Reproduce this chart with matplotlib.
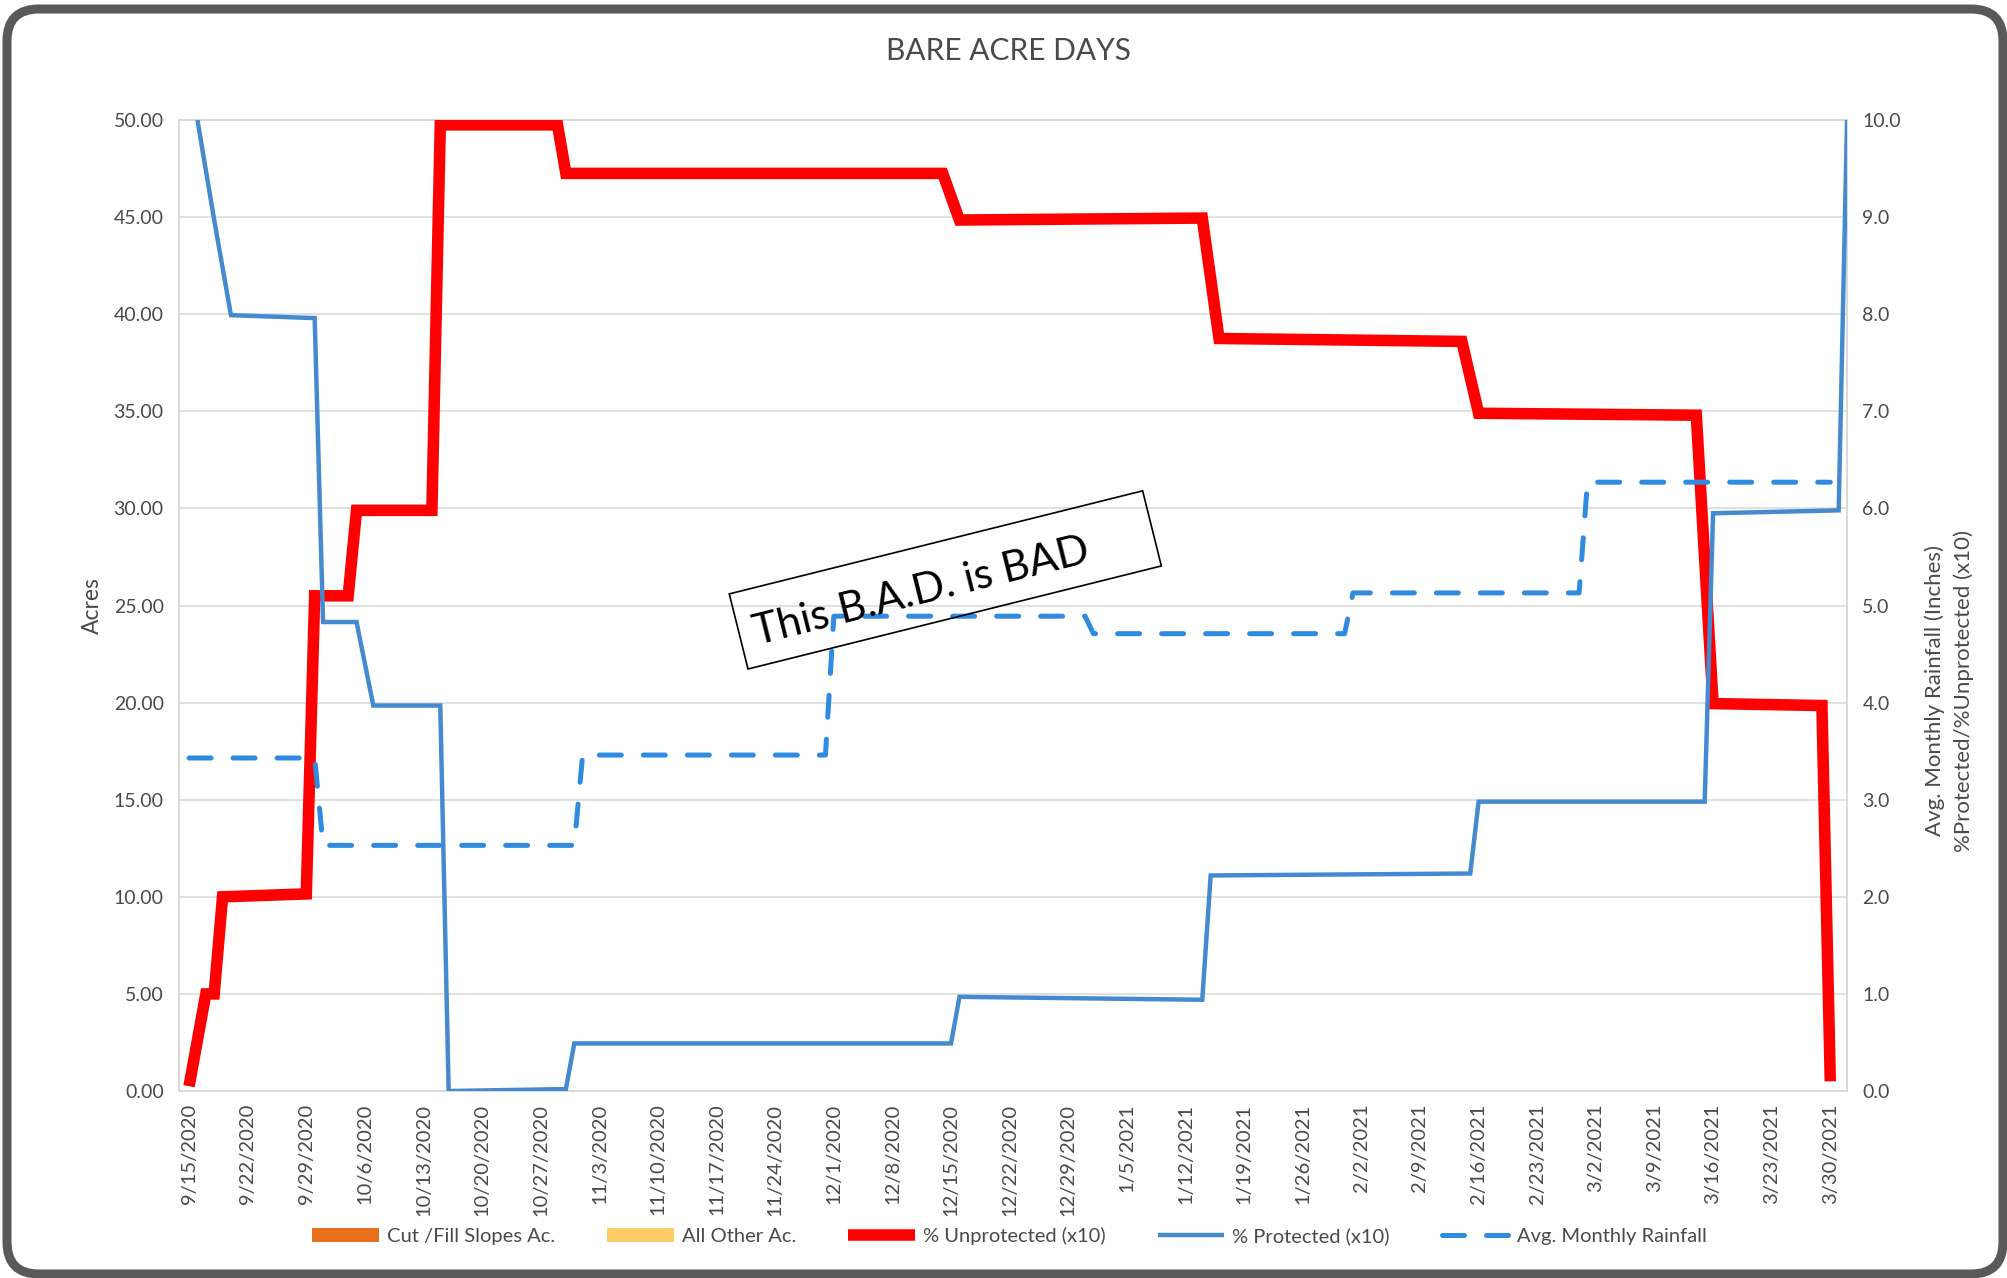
import numpy as np
import pandas as pd
import matplotlib
matplotlib.use("Agg")
import matplotlib.pyplot as plt
import matplotlib.dates as mdates
from matplotlib.patches import FancyBboxPatch, Rectangle
from matplotlib.ticker import FormatStrFormatter, MultipleLocator
from matplotlib.transforms import Affine2D

plt.rcParams['font.family'] = ['Lato', 'DejaVu Sans']

# --- % of site left unprotected, x10 (right axis) ---
unprot_dates = ['2020-09-15', '2020-09-17', '2020-09-18', '2020-09-19',
                '2020-09-29', '2020-09-30', '2020-10-04', '2020-10-05',
                '2020-10-14', '2020-10-15', '2020-10-29', '2020-10-30',
                '2020-12-14', '2020-12-16', '2021-01-14', '2021-01-16',
                '2021-02-14', '2021-02-16', '2021-03-14', '2021-03-16',
                '2021-03-29', '2021-03-30']
unprot_vals = [0.05, 1.00, 1.00, 2.00,
               2.03, 5.10, 5.10, 5.98,
               5.98, 9.95, 9.95, 9.45,
               9.45, 8.97, 8.99, 7.75,
               7.72, 6.98, 6.96, 3.99,
               3.97, 0.10]

# --- % protected, x10 (right axis) ---
prot_dates = ['2020-09-16', '2020-09-18', '2020-09-20', '2020-09-30',
              '2020-10-01', '2020-10-05', '2020-10-07', '2020-10-15',
              '2020-10-16', '2020-10-30', '2020-10-31', '2020-12-15',
              '2020-12-16', '2021-01-14', '2021-01-15', '2021-02-15',
              '2021-02-16', '2021-03-15', '2021-03-16', '2021-03-31',
              '2021-04-01']
prot_vals = [10.00, 8.97, 7.99, 7.96,
             4.83, 4.83, 3.97, 3.97,
             0.00, 0.02, 0.49, 0.49,
             0.97, 0.94, 2.22, 2.24,
             2.98, 2.98, 5.95, 5.98,
             10.00]

# --- average monthly rainfall, inches (right axis) ---
rain_dates = ['2020-09-15', '2020-09-30', '2020-10-01', '2020-10-31',
              '2020-11-01', '2020-11-30', '2020-12-01', '2020-12-31',
              '2021-01-01', '2021-01-31', '2021-02-01', '2021-02-28',
              '2021-03-01', '2021-03-30']
rain_vals = [3.43, 3.43, 2.53, 2.53,
             3.46, 3.46, 4.89, 4.89,
             4.71, 4.71, 5.13, 5.13,
             6.27, 6.27]

# --- bare acreage by category (left axis, stacked areas) ---
acre_dates = ['2020-09-15', '2021-03-30']
cut_fill_acres = [0.0, 0.0]
other_acres = [0.0, 0.0]

tick_start, tick_end = '2020-09-15', '2021-03-30'

GRAY_TXT = '#4A4A4A'
GRID = '#D9D9D9'
RED = '#FF0000'
BLUE = '#4589CF'
RAIN_BLUE = '#2E8BE0'
ORANGE = '#E8701C'
YELLOW = '#FFCB66'

fig = plt.figure(figsize=(20.07, 12.78), dpi=100)
ax = fig.add_axes([0.0892, 0.1463, 0.8311, 0.7598])
ax2 = ax.twinx()

acre_x = pd.to_datetime(acre_dates)
ax.stackplot(acre_x, cut_fill_acres, other_acres, colors=[ORANGE, YELLOW],
             labels=['Cut /Fill Slopes Ac.', 'All Other Ac.'])

ax2.plot(pd.to_datetime(unprot_dates), unprot_vals, color=RED, lw=8.3,
         solid_joinstyle='miter', solid_capstyle='butt',
         label='% Unprotected (x10)', zorder=3)
ax2.plot(pd.to_datetime(prot_dates), prot_vals, color=BLUE, lw=3.2,
         solid_joinstyle='miter', solid_capstyle='butt',
         label='% Protected (x10)', zorder=4)
ax2.plot(pd.to_datetime(rain_dates), rain_vals, color=RAIN_BLUE, lw=3.6,
         dashes=(4.4, 4.4), dash_capstyle='round',
         label='Avg. Monthly Rainfall', zorder=5)

# axes limits and ticks
x0 = mdates.date2num(pd.Timestamp(tick_start))
ax.set_xlim(x0 - 1.2, x0 + 198.0)
ax.set_ylim(0, 50)
ax2.set_ylim(0, 10)
ax.yaxis.set_major_locator(MultipleLocator(5))
ax.yaxis.set_major_formatter(FormatStrFormatter('%.2f'))
ax2.yaxis.set_major_locator(MultipleLocator(1))
ax2.yaxis.set_major_formatter(FormatStrFormatter('%.1f'))

week_ticks = pd.date_range(tick_start, tick_end, freq='7D')
ax.set_xticks(week_ticks)
ax.set_xticklabels([f"{d.month}/{d.day}/{d.year}" for d in week_ticks],
                   rotation=90)

ax.grid(axis='y', color=GRID, lw=1.1)
ax.set_axisbelow(True)
for a in (ax, ax2):
  for side in a.spines:
    a.spines[side].set_color(GRID)
    a.spines[side].set_linewidth(1.1)
  a.tick_params(length=0, colors=GRAY_TXT, labelsize=14)
ax.tick_params(axis='x', pad=9, labelsize=14.5)
ax.tick_params(axis='y', pad=11)
ax2.tick_params(axis='y', pad=11)

ax.set_ylabel('Acres', fontsize=16.5, color=GRAY_TXT, labelpad=8)
fig.text(0.9712, 1 - 691 / 1278,
         'Avg. Monthly Rainfall (Inches)\n%Protected/%Unprotected (x10)',
         rotation=90, ha='center', va='center', fontsize=16,
         color=GRAY_TXT, linespacing=1.5)
fig.text(0.5027, 1 - 51 / 1278, 'BARE ACRE DAYS', ha='center', va='center',
         fontsize=21.5, color=GRAY_TXT)

# legend across the bottom, both axes
h1, l1 = ax.get_legend_handles_labels()
h2, l2 = ax2.get_legend_handles_labels()
fig.legend(h1 + h2, l1 + l2, loc='center', bbox_to_anchor=(0.503, 1 - 1236 / 1278),
           ncol=5, frameon=False, fontsize=14.5, labelcolor=GRAY_TXT,
           handlelength=3.3, handletextpad=0.4, columnspacing=2.6)

# rotated call-out box
rot = Affine2D().rotate_deg_around(7.48, 6.09, 14) + fig.dpi_scale_trans
fig.patches.append(Rectangle((7.48, 6.09), 4.26, 0.774, transform=rot,
                             fill=False, edgecolor='black', lw=1.2))
fig.text(9.21 / 20.07, 6.86 / 12.78, 'This B.A.D. is BAD', rotation=14,
         rotation_mode='anchor', ha='center', va='center', fontsize=30.5,
         color='black')

# chart frame
fig.patches.append(FancyBboxPatch((0.07, 0.04), 19.96, 12.65,
                                  boxstyle='round,pad=0,rounding_size=0.32',
                                  transform=fig.dpi_scale_trans, fill=False,
                                  edgecolor='#595959', lw=6.5))

fig.savefig('out.png', dpi=100, facecolor='white')
